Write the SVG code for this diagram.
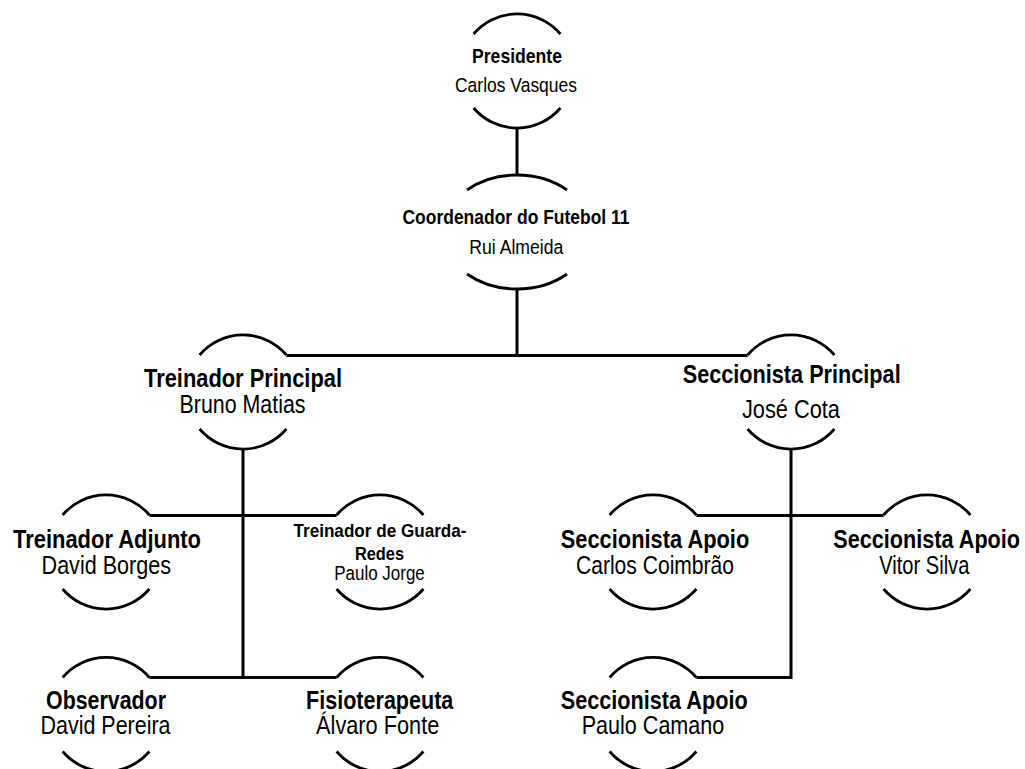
<svg xmlns="http://www.w3.org/2000/svg" width="1025" height="769" viewBox="0 0 1025 769">
  <style>
    .arc { fill: none; stroke: #000; stroke-width: 2.8; stroke-linecap: butt; }
    .link { fill: none; stroke: #000; stroke-width: 3; stroke-linejoin: miter; }
    text { font-family: "Liberation Sans Narrow", "Liberation Sans", Arial, sans-serif; fill: #000; text-anchor: middle; }
    .t { font-weight: bold; }
    .s { font-size: 20.5px; }
    .m { font-size: 25.5px; }
    .g { font-size: 18.5px; }
  </style>
  <rect width="1025" height="769" fill="#fff"/>

  <!-- connectors -->
  <g id="connectors">
    <path class="link" d="M517 128 V175"/>
    <path class="link" d="M517 289 V355.5"/>
    <path class="link" d="M286.4 355.5 H747.6"/>
    <path class="link" d="M243 449 V677.5"/>
    <path class="link" d="M149.4 515.5 H336.6"/>
    <path class="link" d="M149.4 677.5 H336.6"/>
    <path class="link" d="M791 449 V677.5 H696.4"/>
    <path class="link" d="M696.4 515.5 H883.6"/>
  </g>

  <!-- Presidente -->
  <g id="presidente">
    <path class="arc" d="M473.6 34 A57 57 0 0 1 560.4 34"/>
    <path class="arc" d="M473.6 108 A57 57 0 0 0 560.4 108"/>
    <text class="t s" x="517" y="62.7" textLength="90" lengthAdjust="spacingAndGlyphs">Presidente</text>
    <text class="s" x="516" y="91.7" textLength="122" lengthAdjust="spacingAndGlyphs">Carlos Vasques</text>
  </g>

  <!-- Coordenador do Futebol 11 -->
  <g id="coordenador">
    <path class="arc" d="M467 190 A74 57 0 0 1 567 190"/>
    <path class="arc" d="M467 274 A74 57 0 0 0 567 274"/>
    <text class="t s" x="516" y="224" textLength="227" lengthAdjust="spacingAndGlyphs">Coordenador do Futebol 11</text>
    <text class="s" x="516.3" y="254.3" textLength="94" lengthAdjust="spacingAndGlyphs">Rui Almeida</text>
  </g>

  <!-- Treinador Principal -->
  <g id="treinador-principal">
    <path class="arc" d="M199.6 355 A57 57 0 0 1 286.4 355"/>
    <path class="arc" d="M199.6 429 A57 57 0 0 0 286.4 429"/>
    <text class="t m" x="243" y="386.7" textLength="198" lengthAdjust="spacingAndGlyphs">Treinador Principal</text>
    <text class="m" x="242.5" y="412.7" textLength="126" lengthAdjust="spacingAndGlyphs">Bruno Matias</text>
  </g>

  <!-- Seccionista Principal -->
  <g id="seccionista-principal">
    <path class="arc" d="M747.6 355 A57 57 0 0 1 834.4 355"/>
    <path class="arc" d="M747.6 429 A57 57 0 0 0 834.4 429"/>
    <text class="t m" x="791.7" y="382.5" textLength="218" lengthAdjust="spacingAndGlyphs">Seccionista Principal</text>
    <text class="m" x="790.9" y="418" textLength="98" lengthAdjust="spacingAndGlyphs">José Cota</text>
  </g>

  <!-- Treinador Adjunto -->
  <g id="treinador-adjunto">
    <path class="arc" d="M62.6 515 A57 57 0 0 1 149.4 515"/>
    <path class="arc" d="M62.6 589 A57 57 0 0 0 149.4 589"/>
    <text class="t m" x="107" y="548.3" textLength="188" lengthAdjust="spacingAndGlyphs">Treinador Adjunto</text>
    <text class="m" x="106.3" y="573.8" textLength="129.5" lengthAdjust="spacingAndGlyphs">David Borges</text>
  </g>

  <!-- Treinador de Guarda-Redes -->
  <g id="treinador-guarda-redes">
    <path class="arc" d="M336.6 515 A57 57 0 0 1 423.4 515"/>
    <path class="arc" d="M336.6 589 A57 57 0 0 0 423.4 589"/>
    <text class="t g" x="380" y="536.7" textLength="173" lengthAdjust="spacingAndGlyphs">Treinador de Guarda-</text>
    <text class="t g" x="379.5" y="559.5" textLength="49" lengthAdjust="spacingAndGlyphs">Redes</text>
    <text class="s" x="379.5" y="580" textLength="90.5" lengthAdjust="spacingAndGlyphs">Paulo Jorge</text>
  </g>

  <!-- Seccionista Apoio: Carlos Coimbrão -->
  <g id="seccionista-apoio-coimbrao">
    <path class="arc" d="M609.6 515 A57 57 0 0 1 696.4 515"/>
    <path class="arc" d="M609.6 589 A57 57 0 0 0 696.4 589"/>
    <text class="t m" x="655" y="548.3" textLength="188.5" lengthAdjust="spacingAndGlyphs">Seccionista Apoio</text>
    <text class="m" x="655" y="574.3" textLength="158" lengthAdjust="spacingAndGlyphs">Carlos Coimbrão</text>
  </g>

  <!-- Seccionista Apoio: Vitor Silva -->
  <g id="seccionista-apoio-silva">
    <path class="arc" d="M883.6 515 A57 57 0 0 1 970.4 515"/>
    <path class="arc" d="M883.6 589 A57 57 0 0 0 970.4 589"/>
    <text class="t m" x="926.7" y="548.3" textLength="186.7" lengthAdjust="spacingAndGlyphs">Seccionista Apoio</text>
    <text class="m" x="924.3" y="574.3" textLength="90" lengthAdjust="spacingAndGlyphs">Vitor Silva</text>
  </g>

  <!-- Observador -->
  <g id="observador">
    <path class="arc" d="M62.6 677.5 A57 57 0 0 1 149.4 677.5"/>
    <path class="arc" d="M62.6 751.5 A57 57 0 0 0 149.4 751.5"/>
    <text class="t m" x="106" y="709.3" textLength="120" lengthAdjust="spacingAndGlyphs">Observador</text>
    <text class="m" x="105.5" y="733.8" textLength="130" lengthAdjust="spacingAndGlyphs">David Pereira</text>
  </g>

  <!-- Fisioterapeuta -->
  <g id="fisioterapeuta">
    <path class="arc" d="M336.6 677.5 A57 57 0 0 1 423.4 677.5"/>
    <path class="arc" d="M336.6 751.5 A57 57 0 0 0 423.4 751.5"/>
    <text class="t m" x="379.7" y="709.3" textLength="147.3" lengthAdjust="spacingAndGlyphs">Fisioterapeuta</text>
    <text class="m" x="377.7" y="734" textLength="123.3" lengthAdjust="spacingAndGlyphs">Álvaro Fonte</text>
  </g>

  <!-- Seccionista Apoio: Paulo Camano -->
  <g id="seccionista-apoio-camano">
    <path class="arc" d="M609.6 677.5 A57 57 0 0 1 696.4 677.5"/>
    <path class="arc" d="M609.6 751.5 A57 57 0 0 0 696.4 751.5"/>
    <text class="t m" x="654.2" y="709.3" textLength="187" lengthAdjust="spacingAndGlyphs">Seccionista Apoio</text>
    <text class="m" x="653" y="734.3" textLength="142.7" lengthAdjust="spacingAndGlyphs">Paulo Camano</text>
  </g>
</svg>
